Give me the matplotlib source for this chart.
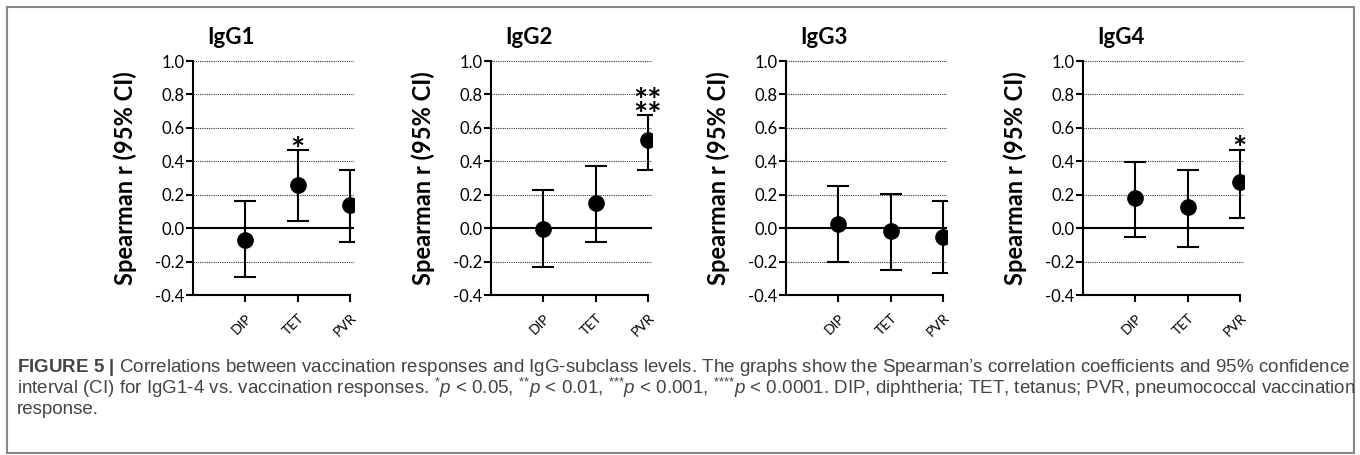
import matplotlib
matplotlib.use("Agg")
import matplotlib.pyplot as plt
from matplotlib.patches import Rectangle
from matplotlib.transforms import blended_transform_factory

plt.rcParams["font.family"] = ["Lato", "DejaVu Sans"]
plt.rcParams["mathtext.fontset"] = "custom"
plt.rcParams["mathtext.rm"] = "Liberation Sans"
plt.rcParams["mathtext.it"] = "Liberation Sans:italic"
plt.rcParams["mathtext.bf"] = "Liberation Sans:bold"

# data
categories = ["DIP", "TET", "PVR"]
panels = ["IgG1", "IgG2", "IgG3", "IgG4"]
rho = [
    [-0.07, 0.26, 0.14],
    [-0.005, 0.15, 0.53],
    [0.025, -0.02, -0.055],
    [0.18, 0.125, 0.275],
]
ci_low = [
    [-0.29, 0.04, -0.085],
    [-0.23, -0.08, 0.345],
    [-0.205, -0.25, -0.27],
    [-0.055, -0.11, 0.06],
]
ci_high = [
    [0.16, 0.465, 0.35],
    [0.23, 0.37, 0.675],
    [0.25, 0.205, 0.165],
    [0.395, 0.35, 0.47],
]
stars = [
    ["", "*", ""],
    ["", "", "**\n**"],
    ["", "", ""],
    ["", "", "*"],
]
yticks = [-0.4, -0.2, 0.0, 0.2, 0.4, 0.6, 0.8, 1.0]

fig = plt.figure(figsize=(13.6, 4.55), dpi=100)

lefts_px = [193, 491, 786, 1083]
W, H = 1360, 455
ax_w = 161 / W
ax_b = (H - 295) / H
ax_h = (295 - 61) / H

x = [1, 2, 3]
for i, name in enumerate(panels):
    ax = fig.add_axes([lefts_px[i] / W, ax_b, ax_w, ax_h])
    ax.set_xlim(0, 3.08)
    ax.set_ylim(-0.4, 1.0)

    for yv in yticks:
        if yv in (-0.4, 0.0):
            continue
        ax.axhline(yv, color="#333", lw=0.8, ls=(0, (1, 1)), zorder=1)
    ax.axhline(0, color="black", lw=1.5, zorder=2)

    lo = [r - l for r, l in zip(rho[i], ci_low[i])]
    hi = [h - r for r, h in zip(rho[i], ci_high[i])]
    ax.errorbar(x, rho[i], yerr=[lo, hi], fmt="o", color="black",
                ms=11, elinewidth=1.5, capsize=8, capthick=1.5, zorder=3)

    # significance stars above the upper CI
    for xi, top, s in zip(x, ci_high[i], stars[i]):
        if s:
            ax.annotate(s, xy=(xi, top), xytext=(0, -11),
                        textcoords="offset points", ha="center",
                        va="bottom", fontsize=24, fontweight="bold",
                        linespacing=0.36)

    for side in ("top", "right"):
        ax.spines[side].set_visible(False)
    for side in ("left", "bottom"):
        ax.spines[side].set_linewidth(1.5)
    ax.spines["bottom"].set_bounds(0, 3)

    ax.set_yticks(yticks)
    ax.set_yticklabels([f"{v:.1f}" for v in yticks], fontsize=12)
    ax.set_xticks(x)
    ax.set_xticklabels(categories, fontsize=10, rotation=45, ha="right",
                       va="top", rotation_mode="anchor")
    ax.tick_params(axis="y", length=5, width=1.5, pad=1)
    ax.tick_params(axis="x", length=5, width=1.5, pad=7)

    ax.text(-0.42, 0.5, "Spearman r (95% CI)", transform=ax.transAxes,
            rotation=90, ha="center", va="center", fontsize=17,
            fontweight="bold")
    tr = blended_transform_factory(ax.transData, ax.transAxes)
    ax.text(0.72, 1.1, name, transform=tr, ha="center", va="center",
            fontsize=16, fontweight="bold")

# caption
cap_kw = dict(fontsize=13.5, color="#444",
              family=["Liberation Sans", "DejaVu Sans"])
fig.text(17 / W, 1 - 367 / H,
         r"$\mathbf{FIGURE\ 5\ |}$ Correlations between vaccination responses and "
         "IgG-subclass levels. The graphs show the Spearman\u2019s correlation "
         "coefficients and 95% confidence",
         va="center", ha="left", **cap_kw)
fig.text(17 / W, 1 - 388 / H,
         r"interval (CI) for IgG1-4 vs. vaccination responses. "
         r"$^{\text{*}}\mathit{p}$ < 0.05, $^{\text{**}}\mathit{p}$ < 0.01, "
         r"$^{\text{***}}\mathit{p}$ < 0.001, $^{\text{****}}\mathit{p}$ < 0.0001. "
         "DIP, diphtheria; TET, tetanus; PVR, pneumococcal vaccination",
         va="center", ha="left", **cap_kw)
fig.text(17 / W, 1 - 409 / H, "response.", va="center", ha="left", **cap_kw)

# outer frame
fig.patches.append(Rectangle((7 / W, 2 / H), 1347 / W, 446 / H,
                             transform=fig.transFigure, fill=False,
                             edgecolor="#888", lw=1.5))

fig.savefig("out.png", dpi=100)
